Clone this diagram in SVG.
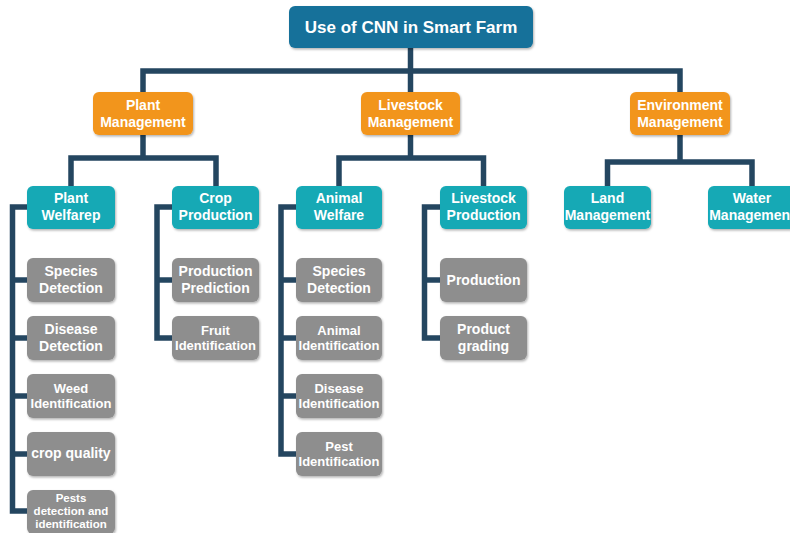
<svg xmlns="http://www.w3.org/2000/svg" width="790" height="533" viewBox="0 0 790 533">
<defs>
<filter id="sh" x="-10%" y="-10%" width="130%" height="140%">
<feDropShadow dx="1" dy="1.5" stdDeviation="1" flood-color="#000" flood-opacity="0.3"/>
</filter>
<style>
.root{fill:#15719a;filter:url(#sh)}
.l2{fill:#f2951f;filter:url(#sh)}
.l3{fill:#13a9b5;filter:url(#sh)}
.leaf{fill:#8e8e8e;filter:url(#sh)}
text{font-family:"Liberation Sans",Arial,sans-serif;font-weight:bold;fill:#fff;text-anchor:middle}
.t14{font-size:14px}
.t13{font-size:13px}
.t11{font-size:11.5px}
.c{fill:none;stroke:#244660;stroke-width:5.5;stroke-linejoin:miter;stroke-linecap:butt}
</style>
</defs>
<rect width="790" height="533" fill="#fff"/>
<g id="connectors">
<polyline class="c" points="410.5,48 410.5,92"/>
<polyline class="c" points="143,92 143,71 680,71 680,92"/>
<polyline class="c" points="143,135 143,158"/>
<polyline class="c" points="71,186 71,158 216,158 216,186"/>
<polyline class="c" points="410.5,135 410.5,158"/>
<polyline class="c" points="339,186 339,158 483.5,158 483.5,186"/>
<polyline class="c" points="680,135 680,162"/>
<polyline class="c" points="607.5,186 607.5,162 752,162 752,186"/>
<polyline class="c" points="27,207 12.5,207 12.5,511 27,511"/>
<line class="c" x1="12.5" y1="280" x2="27" y2="280"/>
<line class="c" x1="12.5" y1="338" x2="27" y2="338"/>
<line class="c" x1="12.5" y1="396" x2="27" y2="396"/>
<line class="c" x1="12.5" y1="454" x2="27" y2="454"/>
<polyline class="c" points="172,207 157,207 157,338 172,338"/>
<line class="c" x1="157" y1="280" x2="172" y2="280"/>
<polyline class="c" points="296,207 281,207 281,454 296,454"/>
<line class="c" x1="281" y1="280" x2="296" y2="280"/>
<line class="c" x1="281" y1="338" x2="296" y2="338"/>
<line class="c" x1="281" y1="396" x2="296" y2="396"/>
<polyline class="c" points="440,207 424.5,207 424.5,338 440,338"/>
<line class="c" x1="424.5" y1="280" x2="440" y2="280"/>
</g>
<g id="root"><rect class="root" x="289" y="6" width="244" height="42" rx="6"/><text x="411" y="33" style="font-size:17px">Use of CNN in Smart Farm</text></g>
<g id="plant-management"><rect class="l2" x="93" y="92" width="100" height="43" rx="6"/><text class="t14" x="143" y="110">Plant</text><text class="t14" x="143" y="127">Management</text></g>
<g id="livestock-management"><rect class="l2" x="361" y="92" width="99" height="43" rx="6"/><text class="t14" x="410.5" y="110">Livestock</text><text class="t14" x="410.5" y="127">Management</text></g>
<g id="environment-management"><rect class="l2" x="630" y="92" width="100" height="43" rx="6"/><text class="t14" x="680" y="110">Environment</text><text class="t14" x="680" y="127">Management</text></g>
<g id="plant-welfarep"><rect class="l3" x="27" y="186" width="88" height="43" rx="6"/><text class="t14" x="71" y="203">Plant</text><text class="t14" x="71" y="220">Welfarep</text></g>
<g id="crop-production"><rect class="l3" x="172" y="186" width="87" height="43" rx="6"/><text class="t14" x="215.5" y="203">Crop</text><text class="t14" x="215.5" y="220">Production</text></g>
<g id="animal-welfare"><rect class="l3" x="296" y="186" width="86" height="43" rx="6"/><text class="t14" x="339" y="203">Animal</text><text class="t14" x="339" y="220">Welfare</text></g>
<g id="livestock-production"><rect class="l3" x="440" y="186" width="87" height="43" rx="6"/><text class="t14" x="483.5" y="203">Livestock</text><text class="t14" x="483.5" y="220">Production</text></g>
<g id="land-management"><rect class="l3" x="564" y="186" width="87" height="43" rx="6"/><text class="t14" x="607.5" y="203">Land</text><text class="t14" x="607.5" y="220">Management</text></g>
<g id="water-management"><rect class="l3" x="708" y="186" width="88" height="43" rx="6"/><text class="t14" x="752" y="203">Water</text><text class="t14" x="752" y="220">Management</text></g>
<g id="pw-species"><rect class="leaf" x="27" y="258" width="88" height="44" rx="6"/><text class="t14" x="71" y="276">Species</text><text class="t14" x="71" y="293">Detection</text></g>
<g id="pw-disease"><rect class="leaf" x="27" y="316" width="88" height="44" rx="6"/><text class="t14" x="71" y="334">Disease</text><text class="t14" x="71" y="351">Detection</text></g>
<g id="pw-weed"><rect class="leaf" x="27" y="374" width="88" height="44" rx="6"/><text class="t13" x="71" y="392.5">Weed</text><text class="t13" x="71" y="407.5">Identification</text></g>
<g id="pw-crop-quality"><rect class="leaf" x="27" y="432" width="88" height="44" rx="6"/><text class="t14" x="71" y="458">crop quality</text></g>
<g id="pw-pests"><rect class="leaf" x="27" y="490" width="88" height="44" rx="6"/><text class="t11" x="71" y="502">Pests</text><text class="t11" x="71" y="515">detection and</text><text class="t11" x="71" y="528">identification</text></g>
<g id="cp-prediction"><rect class="leaf" x="172" y="258" width="87" height="44" rx="6"/><text class="t14" x="215.5" y="276">Production</text><text class="t14" x="215.5" y="293">Prediction</text></g>
<g id="cp-fruit"><rect class="leaf" x="172" y="316" width="87" height="44" rx="6"/><text class="t13" x="215.5" y="334.5">Fruit</text><text class="t13" x="215.5" y="349.5">Identification</text></g>
<g id="aw-species"><rect class="leaf" x="296" y="258" width="86" height="44" rx="6"/><text class="t14" x="339" y="276">Species</text><text class="t14" x="339" y="293">Detection</text></g>
<g id="aw-animal"><rect class="leaf" x="296" y="316" width="86" height="44" rx="6"/><text class="t13" x="339" y="334.5">Animal</text><text class="t13" x="339" y="349.5">Identification</text></g>
<g id="aw-disease"><rect class="leaf" x="296" y="374" width="86" height="44" rx="6"/><text class="t13" x="339" y="392.5">Disease</text><text class="t13" x="339" y="407.5">Identification</text></g>
<g id="aw-pest"><rect class="leaf" x="296" y="432" width="86" height="44" rx="6"/><text class="t13" x="339" y="450.5">Pest</text><text class="t13" x="339" y="465.5">Identification</text></g>
<g id="lp-production"><rect class="leaf" x="440" y="258" width="87" height="44" rx="6"/><text class="t14" x="483.5" y="285">Production</text></g>
<g id="lp-grading"><rect class="leaf" x="440" y="316" width="87" height="44" rx="6"/><text class="t14" x="483.5" y="334">Product</text><text class="t14" x="483.5" y="351">grading</text></g>
</svg>
